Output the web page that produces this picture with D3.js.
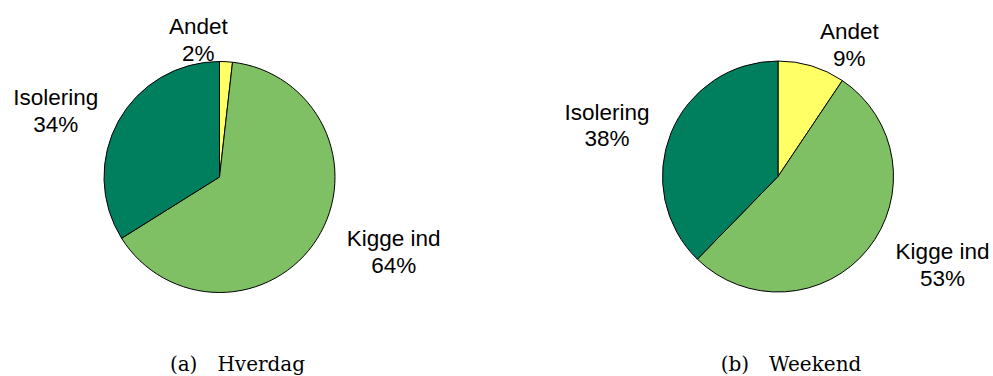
<!DOCTYPE html>
<html>
<head>
<meta charset="utf-8">
<script src="https://cdn.jsdelivr.net/npm/d3@7"></script>
<style>
  html, body { margin: 0; padding: 0; background: #fff; }
  svg { display: block; }
</style>
</head>
<body>
<svg id="chart" width="993" height="376"></svg>
<script>
// ---- data ----
const categories = ["Andet", "Kigge ind", "Isolering"];
const hverdagValues = [1.8, 64.3, 33.9];
const weekendValues = [9.4, 52.9, 37.7];
const captionTags = ["(a)", "(b)"];
const captionNames = ["Hverdag", "Weekend"];
const sliceColors = ["#ffff66", "#80c064", "#007f5f"];

// ---- layout ----
const W = 993, H = 376;
const R = 115.5;
const panels = [
  { values: hverdagValues, cx: 219.5, cy: 177, capX: 237.5, andetShift: -29 },
  { values: weekendValues, cx: 778, cy: 176.5, capX: 791, andetShift: 31 }
];

const svg = d3.select("#chart");
const color = d3.scaleOrdinal().domain(categories).range(sliceColors);
const pie = d3.pie().sort(null).value(d => d.value).startAngle(0).endAngle(2 * Math.PI);
const arc = d3.arc().innerRadius(0).outerRadius(R);
const labelArc = d3.arc().innerRadius(R * 1.2).outerRadius(R * 1.2);

panels.forEach((p, pi) => {
  const data = categories.map((c, i) => ({ cat: c, value: p.values[i] }));
  const arcs = pie(data);
  const g = svg.append("g").attr("transform", `translate(${p.cx},${p.cy})`);

  g.selectAll("path.slice")
    .data(arcs)
    .join("path")
    .attr("class", "slice")
    .attr("d", arc)
    .attr("fill", d => color(d.data.cat))
    .attr("stroke", "#000")
    .attr("stroke-width", 1)
    .attr("stroke-linejoin", "round");

  arcs.forEach((a, i) => {
    const [px, py] = labelArc.centroid(a);
    const pct = Math.round(a.data.value) + "%";
    const lg = g.append("g");
    const t1 = lg.append("text").text(a.data.cat);
    const t2 = lg.append("text").text(pct);
    lg.selectAll("text")
      .attr("font-family", "'Liberation Sans', Arial, sans-serif")
      .attr("font-size", 22.5)
      .attr("fill", "#000")
      .attr("text-anchor", "middle");
    const w = Math.max(t1.node().getComputedTextLength(), t2.node().getComputedTextLength());
    let bx;
    const mid = (a.startAngle + a.endAngle) / 2;
    if (i === 0) {
      bx = px + p.andetShift;
    } else if (Math.sin(mid) < 0) {
      bx = px - w / 2;
    } else {
      bx = px + 10 + w / 2;
    }
    t1.attr("x", bx).attr("y", py - 4.5);
    t2.attr("x", bx).attr("y", py - 4.5 + 26.5);
  });

  const cap = svg.append("text")
    .attr("x", p.capX)
    .attr("y", 371)
    .attr("text-anchor", "middle")
    .attr("font-family", "'DejaVu Serif', serif")
    .attr("font-size", 20)
    .attr("fill", "#000");
  cap.append("tspan").text(captionTags[pi]);
  cap.append("tspan").attr("dx", 20).text(captionNames[pi]);
});
</script>
</body>
</html>
